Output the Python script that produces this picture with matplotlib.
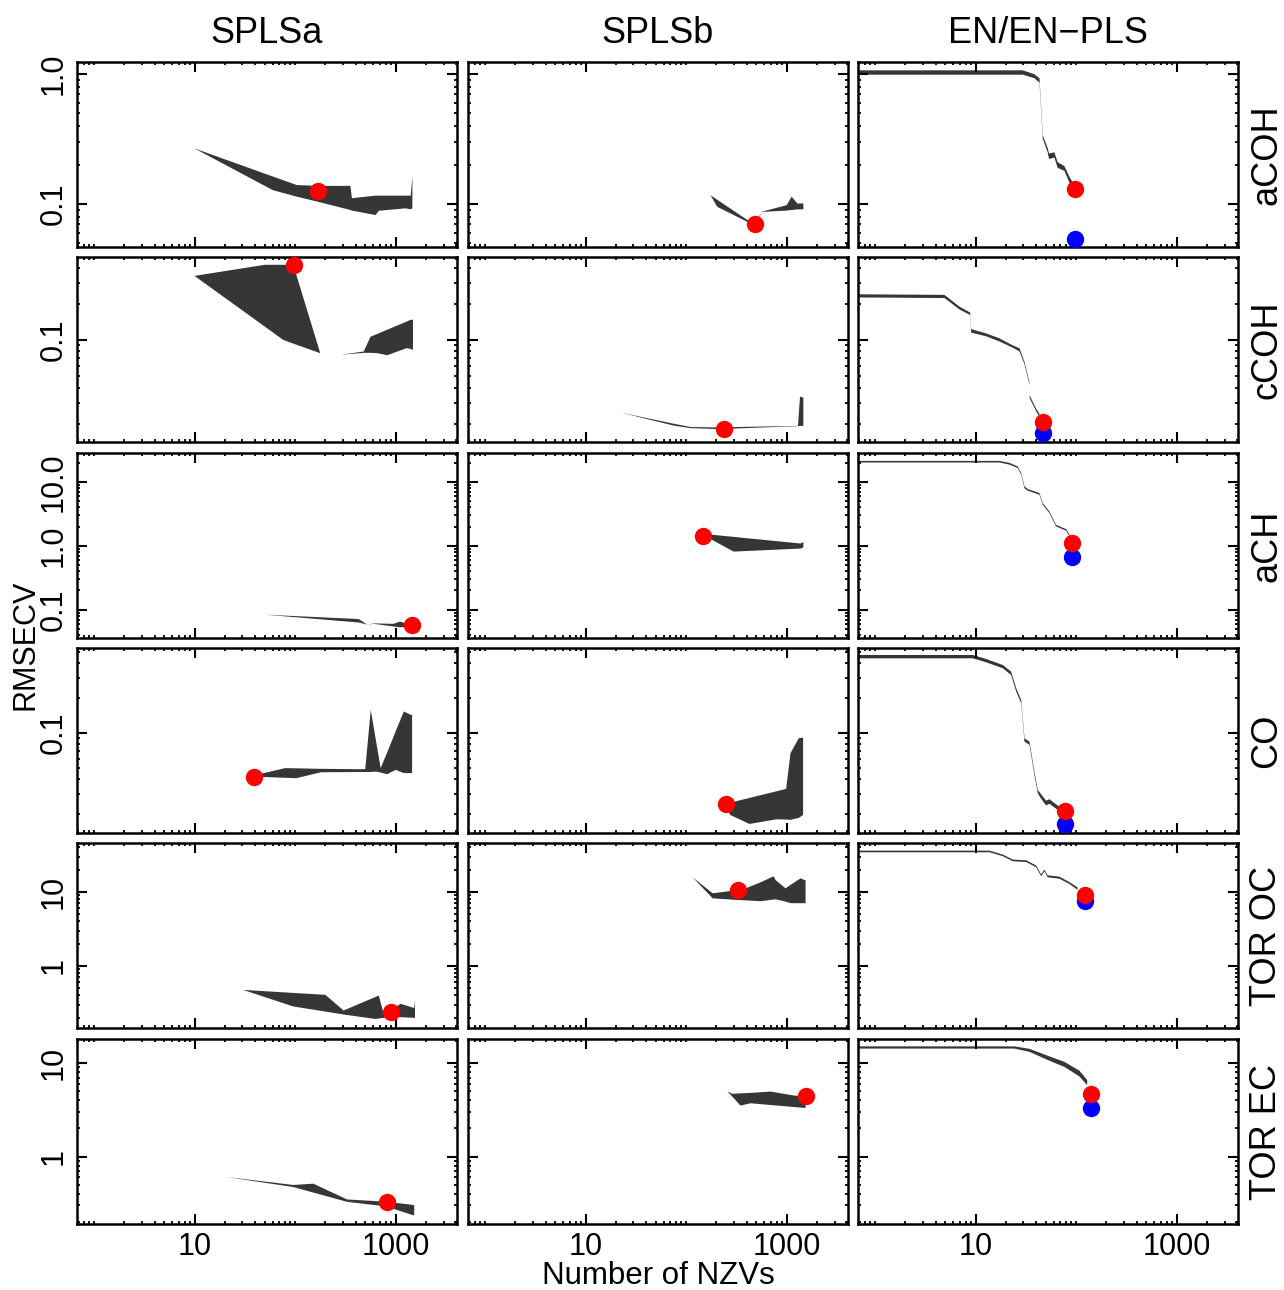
import numpy as np
import matplotlib
matplotlib.use("Agg")
import matplotlib.pyplot as plt
from matplotlib.ticker import FixedLocator, LogLocator, NullFormatter, FixedFormatter

plt.rcParams['font.family'] = ['Liberation Sans', 'DejaVu Sans']

col_titles = ["SPLSa", "SPLSb", "EN/EN\u2212PLS"]
row_names = ["aCOH", "cCOH", "aCH", "CO", "TOR OC", "TOR EC"]

# y range of every row (shared by the three columns)
row_ylims = [(0.0467, 1.24), (0.0141, 0.49), (0.036, 28.6),
             (0.0137, 0.54), (0.145, 45.9), (0.19, 18.1)]
row_yticks = [[0.1, 1.0], [0.1], [0.1, 1.0, 10.0], [0.1], [1, 10], [1, 10]]
row_yticklabels = [["0.1", "1.0"], ["0.1"], ["0.1", "1.0", "10.0"], ["0.1"],
                   ["1", "10"], ["1", "10"]]

# ---- SPLSa bands (upper / lower RMSECV) ----
acoh_a_x = [10, 60, 104, 170, 355, 368, 631, 684, 1260, 1413, 1468]
acoh_a_hi = [0.268, 0.163, 0.140, 0.138, 0.138, 0.111, 0.116, 0.116, 0.116, 0.116, 0.162]
acoh_a_lo = [0.268, 0.128, 0.114, 0.104, 0.090, 0.089, 0.0823, 0.0888, 0.0927, 0.091, 0.0927]

ccoh_a_x = [10, 50, 76, 96, 178, 282, 482, 562, 656, 826, 1288, 1413, 1490]
ccoh_a_hi = [0.341, 0.422, 0.422, 0.422, 0.0775, 0.075, 0.080, 0.106, 0.112, 0.1215, 0.142, 0.147, 0.147]
ccoh_a_lo = [0.341, 0.129, 0.100, 0.093, 0.0775, 0.075, 0.078, 0.078, 0.0775, 0.0745, 0.0853, 0.084, 0.0825]

ach_a_x = [50, 430, 522, 608, 955, 1100, 1468]
ach_a_hi = [0.0835, 0.0714, 0.0582, 0.061, 0.060, 0.065, 0.0575]
ach_a_lo = [0.0835, 0.063, 0.0582, 0.060, 0.0545, 0.053, 0.054]

co_a_x = [38.9, 79.8, 103, 182, 499, 566, 642, 710, 826, 1000, 1208, 1422, 1459]
co_a_hi = [0.043, 0.0497, 0.0495, 0.049, 0.0486, 0.158, 0.083, 0.0497, 0.068, 0.103, 0.153, 0.143, 0.143]
co_a_lo = [0.042, 0.041, 0.0407, 0.0458, 0.046, 0.046, 0.0464, 0.0455, 0.044, 0.048, 0.045, 0.045, 0.045]

toroc_a_x = [30.4, 96.2, 200, 304, 316, 631, 681, 764, 891, 1122, 1531, 1560]
toroc_a_hi = [0.475, 0.432, 0.407, 0.250, 0.256, 0.381, 0.398, 0.219, 0.251, 0.308, 0.27, 0.349]
toroc_a_lo = [0.475, 0.283, 0.242, 0.221, 0.219, 0.192, 0.195, 0.199, 0.207, 0.203, 0.199, 0.198]

torec_a_x = [20.7, 96.2, 152, 329, 764, 826, 1531]
torec_a_hi = [0.605, 0.497, 0.513, 0.348, 0.330, 0.328, 0.303]
torec_a_lo = [0.605, 0.472, 0.412, 0.328, 0.295, 0.290, 0.234]

# ---- SPLSb bands ----
acoh_b_x = [175, 204, 406, 484, 573, 1000, 1122, 1280, 1468]
acoh_b_hi = [0.117, 0.108, 0.0755, 0.072, 0.0875, 0.098, 0.114, 0.101, 0.101]
acoh_b_lo = [0.117, 0.0953, 0.073, 0.070, 0.087, 0.089, 0.090, 0.091, 0.091]

ccoh_b_x = [22.3, 75.7, 111, 238, 323, 1297, 1360, 1468]
ccoh_b_hi = [0.0248, 0.0200, 0.0188, 0.0186, 0.0188, 0.0192, 0.0337, 0.033]
ccoh_b_lo = [0.0248, 0.0193, 0.0184, 0.0180, 0.0183, 0.0191, 0.0192, 0.0192]

ach_b_x = [139, 297, 1377, 1468]
ach_b_hi = [1.56, 1.385, 1.09, 1.15]
ach_b_lo = [1.56, 0.815, 0.908, 0.95]

co_b_x = [248, 275, 427, 798, 989, 1094, 1320, 1459]
co_b_hi = [0.0245, 0.025, 0.0275, 0.0314, 0.0329, 0.0669, 0.090, 0.091]
co_b_lo = [0.0235, 0.0196, 0.0164, 0.018, 0.0179, 0.0178, 0.0185, 0.0196]

toroc_b_x = [116, 184, 325, 391, 551, 743, 777, 977, 1097, 1377, 1544]
toroc_b_hi = [15.8, 9.6, 10.6, 11.2, 13.5, 16.3, 14.5, 11.2, 12.5, 15.3, 14.3]
toroc_b_lo = [15.8, 8.2, 7.8, 7.7, 7.5, 7.9, 7.96, 7.4, 7.05, 7.05, 7.05]

torec_b_x = [257, 288, 348, 439, 694, 1183, 1545]
torec_b_hi = [5.0, 4.69, 4.75, 4.8, 4.96, 4.5, 4.4]
torec_b_lo = [5.0, 4.38, 3.51, 3.72, 3.56, 3.39, 3.31]

# ---- EN paths ----
acoh_en_x = [0.5, 29.5, 38.5, 43.3, 46.6, 52.2, 53.9, 60.9, 65.6, 76.6, 86, 95]
acoh_en_hi = [1.07, 1.07, 1.0, 0.93, 0.34, 0.27, 0.245, 0.25, 0.21, 0.196, 0.162, 0.142]
acoh_en_lo = [0.99, 0.99, 0.93, 0.86, 0.32, 0.25, 0.222, 0.228, 0.19, 0.18, 0.146, 0.132]

ccoh_en_x = [0.5, 4.92, 6.93, 8.85, 9.06, 12.8, 17.3, 23.5, 27.4, 30.7, 34.4, 34.5, 40.1, 43.2]
ccoh_en_hi = [0.240, 0.237, 0.189, 0.169, 0.123, 0.113, 0.103, 0.090, 0.085, 0.0655, 0.0445, 0.0345, 0.0267, 0.0243]
ccoh_en_lo = [0.226, 0.223, 0.179, 0.161, 0.115, 0.107, 0.097, 0.086, 0.080, 0.0625, 0.0425, 0.0328, 0.0254, 0.0231]

ach_en_x = [0.5, 17.3, 21.8, 26.3, 28.5, 30.7, 33.0, 43.2, 46.6, 54.3, 63.3, 79.6, 86]
ach_en_hi = [21.5, 21.5, 20.0, 17.6, 13.9, 8.6, 7.8, 6.75, 4.7, 3.47, 2.14, 1.83, 1.5]
ach_en_lo = [20.3, 20.3, 18.8, 16.6, 13.1, 8.0, 7.35, 6.35, 4.42, 3.27, 2.02, 1.73, 1.4]

co_en_x = [0.5, 9.4, 12.8, 18.7, 22.6, 25.4, 28.5, 30.7, 34.4, 38.5, 41.6, 45, 50.4, 54.3, 63.3, 71]
co_en_hi = [0.47, 0.47, 0.434, 0.385, 0.338, 0.243, 0.192, 0.09, 0.084, 0.0465, 0.0322, 0.0295, 0.026, 0.0268, 0.0242, 0.0226]
co_en_lo = [0.44, 0.44, 0.406, 0.361, 0.316, 0.227, 0.18, 0.084, 0.079, 0.0435, 0.0302, 0.027, 0.0237, 0.0245, 0.0222, 0.0208]

toroc_en_x = [0.5, 13.8, 18.7, 23.5, 31.9, 40.1, 45, 48.5, 52.2, 68.3, 86, 103.5]
toroc_en_hi = [36.2, 36.2, 32.0, 27.4, 26.8, 22.8, 17.3, 20.1, 16.8, 16.1, 13.6, 11.5]
toroc_en_lo = [34.4, 34.4, 30.4, 26.0, 25.4, 21.6, 16.3, 19.1, 15.8, 15.1, 12.8, 10.7]

torec_en_x = [0.5, 24.4, 34.4, 54.3, 76.6, 108, 129]
torec_en_hi = [15.1, 15.1, 14.2, 11.8, 10.3, 8.3, 6.6]
torec_en_lo = [14.3, 14.3, 13.2, 10.6, 9.1, 7.2, 5.8]

# ---- selected models: red = best, blue = EN-PLS ----
best_a = [(171, 0.127), (98.5, 0.422), (1468, 0.0575), (38.9, 0.042), (906, 0.235), (826, 0.328)]
best_b = [(484, 0.070), (238, 0.018), (146, 1.45), (248, 0.0243), (325, 10.5), (1545, 4.42)]
best_en = [(98.4, 0.13), (46.6, 0.0205), (90.4, 1.11), (78.3, 0.021), (124, 9.0), (142, 4.72)]
best_enpls = [(98.4, 0.054), (46.6, 0.0167), (90.4, 0.68), (78.3, 0.0163), (124, 7.5), (142, 3.33)]

bands = [
    [(acoh_a_x, acoh_a_hi, acoh_a_lo), (acoh_b_x, acoh_b_hi, acoh_b_lo), (acoh_en_x, acoh_en_hi, acoh_en_lo)],
    [(ccoh_a_x, ccoh_a_hi, ccoh_a_lo), (ccoh_b_x, ccoh_b_hi, ccoh_b_lo), (ccoh_en_x, ccoh_en_hi, ccoh_en_lo)],
    [(ach_a_x, ach_a_hi, ach_a_lo), (ach_b_x, ach_b_hi, ach_b_lo), (ach_en_x, ach_en_hi, ach_en_lo)],
    [(co_a_x, co_a_hi, co_a_lo), (co_b_x, co_b_hi, co_b_lo), (co_en_x, co_en_hi, co_en_lo)],
    [(toroc_a_x, toroc_a_hi, toroc_a_lo), (toroc_b_x, toroc_b_hi, toroc_b_lo), (toroc_en_x, toroc_en_hi, toroc_en_lo)],
    [(torec_a_x, torec_a_hi, torec_a_lo), (torec_b_x, torec_b_hi, torec_b_lo), (torec_en_x, torec_en_hi, torec_en_lo)],
]
reds = [best_a, best_b, best_en]

W, H = 1284, 1290
fig = plt.figure(figsize=(W / 100, H / 100), dpi=100)

col_left = [77, 468, 858]
row_top = [62, 257, 453, 648, 843, 1039]
pw, ph = 380, 185
fill_col = '#363636'

for r in range(6):
    for c in range(3):
        ax = fig.add_axes([col_left[c] / W, 1 - (row_top[r] + ph) / H, pw / W, ph / H])
        ax.set_xscale('log')
        ax.set_yscale('log')
        x, hi, lo = bands[r][c]
        # polygons without outline: steep, narrow pieces come out faint as in R
        ax.fill_between(x, lo, hi, facecolor=fill_col, linewidth=0)
        bx, by = reds[c][r]
        if c == 2:
            gx, gy = best_enpls[r]
            ax.plot([gx], [gy], 'o', color='#0000FF', ms=12.5, mec='none', zorder=5)
        ax.plot([bx], [by], 'o', color='#FF0000', ms=12.5, mec='none', zorder=6)

        ax.set_xlim(0.678, 4080)
        ax.set_ylim(*row_ylims[r])

        ax.xaxis.set_major_locator(FixedLocator([10, 1000]))
        ax.xaxis.set_minor_locator(LogLocator(base=10, subs=np.arange(1, 10), numticks=20))
        ax.xaxis.set_minor_formatter(NullFormatter())
        ax.yaxis.set_major_locator(FixedLocator(row_yticks[r]))
        ax.yaxis.set_minor_locator(LogLocator(base=10, subs=np.arange(1, 10), numticks=20))
        ax.yaxis.set_minor_formatter(NullFormatter())

        if r == 5:
            ax.xaxis.set_major_formatter(FixedFormatter(["10", "1000"]))
        else:
            ax.xaxis.set_major_formatter(NullFormatter())
        if c == 0:
            ax.yaxis.set_major_formatter(FixedFormatter(row_yticklabels[r]))
            for lab in ax.get_yticklabels():
                lab.set_rotation(90)
                lab.set_va('center')
        else:
            ax.yaxis.set_major_formatter(NullFormatter())

        ax.tick_params(which='both', direction='in', top=True, right=True, width=1.5)
        ax.tick_params(which='major', length=7, labelsize=22, pad=6)
        ax.tick_params(which='minor', length=2.5, width=1.3)
        for sp in ax.spines.values():
            sp.set_linewidth(1.8)

        if r == 0:
            ax.set_title(col_titles[c], fontsize=26, pad=14)
        if c == 2:
            ax.text(1.075, 0.5, row_names[r], transform=ax.transAxes, rotation=90,
                    ha='center', va='center', fontsize=26)

fig.text(25 / W, 1 - 645 / H, "RMSECV", rotation=90, ha='center', va='center', fontsize=22)
fig.text(658 / W, 1 - 1276 / H, "Number of NZVs", ha='center', va='center', fontsize=22.5)

fig.savefig('out.png', dpi=100)
